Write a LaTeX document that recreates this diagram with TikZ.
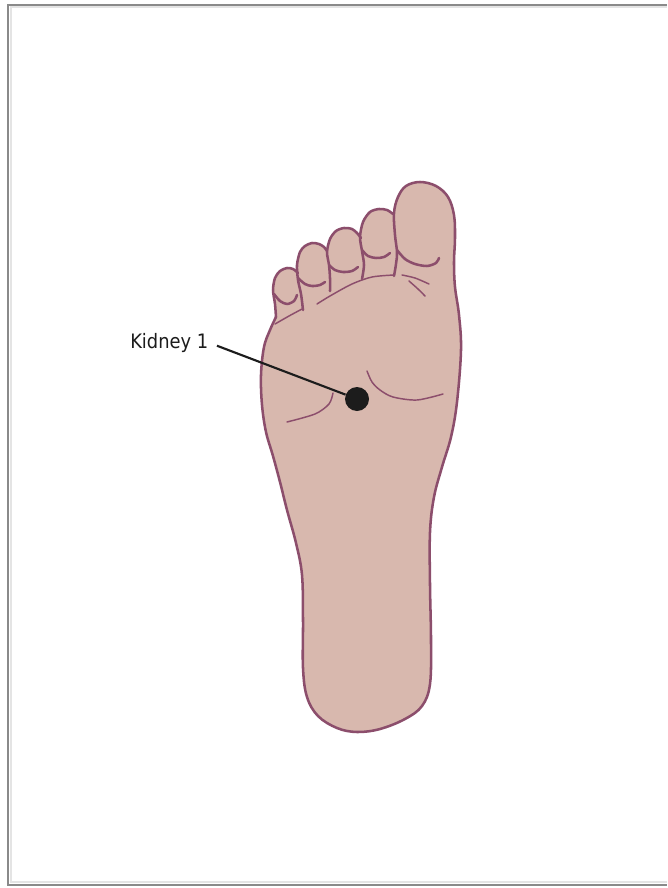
\documentclass[tikz,border=0pt]{standalone}
\usepackage{fontspec}
\newfontfamily\labelfont[FakeStretch=0.9]{DejaVu Sans}
\definecolor{skin}{RGB}{216,184,174}
\definecolor{skinline}{RGB}{140,78,108}
\definecolor{framedark}{RGB}{138,138,138}
\definecolor{framelite}{RGB}{228,228,228}
\definecolor{inkdark}{RGB}{28,28,28}

% outline pieces of the sole, reused for fill and stroke
\newcommand\soleOutline{plot[smooth,tension=0.6] coordinates {(276,317) (270,330) (264,347) (261,375) (262,405) (266,432) (273,456) (280,482) (287,510) (296,543) (302,575) (303,620) (303,668) (307,697) (318,716) (337,728) (357,732) (380,729) (405,719) (422,706) (430,684) (431,640) (430,585) (430,532) (434,497) (442,467) (451,437) (457,402) (461,350) (459,315) (455,287) (454,262) (455,238) (454,215) (448,197) (436,186) (420,182) (406,186) (398,197) (394,213) (395,235) (397,252) (396,264) (394,276)}}
\newcommand\toeFive{plot[smooth] coordinates {(276,317) (275,304) (273,290) (275,278) (280,271) (287,268) (293,269) (298,273)}}
\newcommand\toeFour{plot[smooth] coordinates {(303,310) (301,294) (298,280) (297,265) (300,252) (305,246) (312,243) (319,244) (324,247) (327,251)}}
\newcommand\toeThree{plot[smooth] coordinates {(330,291) (330,278) (329,265) (327,252) (330,239) (336,231) (344,228) (352,229) (357,233) (361,238)}}
\newcommand\toeTwo{plot[smooth] coordinates {(362,279) (364,265) (362,251) (360,237) (363,222) (370,212) (379,209) (387,210) (393,214)}}

\begin{document}
\begin{tikzpicture}[x=0.75pt,y=-0.75pt,
  skinfill/.style={fill=skin},
  footline/.style={draw=skinline,line width=1.9pt,line join=round,line cap=round},
  creaseline/.style={draw=skinline,line width=1.1pt,line cap=round},
  leader/.style={draw=inkdark,line width=1.6pt},
  pointdot/.style={circle,fill=inkdark,inner sep=0pt,minimum size=18pt},
  labeltext/.style={font=\labelfont\fontsize{14.9pt}{17pt}\selectfont,text=inkdark,inner sep=0pt,anchor=base west},
  framedarkline/.style={draw=framedark,line width=1.5pt},
  framelightline/.style={draw=framelite,line width=1.5pt}]

\useasboundingbox (0,0) rectangle (667,888);
\fill[white] (0,0) rectangle (667,888);

% page frame
\draw[framelightline] (667,7.5) -- (10.5,7.5) -- (10.5,882) -- (667,882);
\draw[framedarkline] (667,5) -- (8,5) -- (8,884.5) -- (667,884.5);

% skin fill: sole, toes, and the ball of the foot beneath them
\fill[skinfill] \soleOutline -- cycle;
\fill[skinfill] \toeFive -- (306,286) -- (305,320) -- cycle;
\fill[skinfill] \toeFour -- (336,262) -- (333,300) -- cycle;
\fill[skinfill] \toeThree -- (369,248) -- (364,290) -- cycle;
\fill[skinfill] \toeTwo -- (403,234) -- (398,284) -- cycle;
\fill[skinfill] (288,300) -- (305,290) -- (320,280) -- (335,270) -- (350,262)
  -- (368,252) -- (385,250) -- (399,252) -- (400,292) -- (300,326) -- cycle;

% outlines
\draw[footline] \soleOutline;
\draw[footline] \toeFive;
\draw[footline] \toeFour;
\draw[footline] \toeThree;
\draw[footline] \toeTwo;

% toe pads
\draw[footline] plot[smooth] coordinates {(274,294) (280,301) (287,304) (294,301) (297,295)};
\draw[footline] plot[smooth] coordinates {(298,278) (305,284) (312,286) (320,285) (325,282)};
\draw[footline] plot[smooth] coordinates {(329,265) (335,270) (343,272) (352,271) (358,267)};
\draw[footline] plot[smooth] coordinates {(362,250) (368,256) (376,258) (384,257) (390,253)};
\draw[footline] plot[smooth] coordinates {(397,250) (405,259) (415,264) (427,266) (436,263) (439,258)};

% creases under the toes
\draw[creaseline] plot[smooth] coordinates {(275,324) (289,316) (302,309)};
\draw[creaseline] plot[smooth] coordinates {(317,304) (330,296) (352,284) (372,277) (394,275)};
\draw[creaseline] plot[smooth] coordinates {(402,275) (415,278) (429,284)};
\draw[creaseline] plot[smooth] coordinates {(409,281) (418,289) (425,296)};

% creases of the sole
\draw[creaseline] plot[smooth] coordinates {(367,371) (372,382) (380,390) (393,397) (417,400) (443,394)};
\draw[creaseline] plot[smooth] coordinates {(333,393) (329,404) (315,414) (287,422)};

% point and label
\node[pointdot] (k1) at (357,399) {};
\node[labeltext] (lbl) at (130,348) {Kidney 1};
\draw[leader, shorten <=6.75pt] (lbl.east) -- (k1);
\end{tikzpicture}
\end{document}
